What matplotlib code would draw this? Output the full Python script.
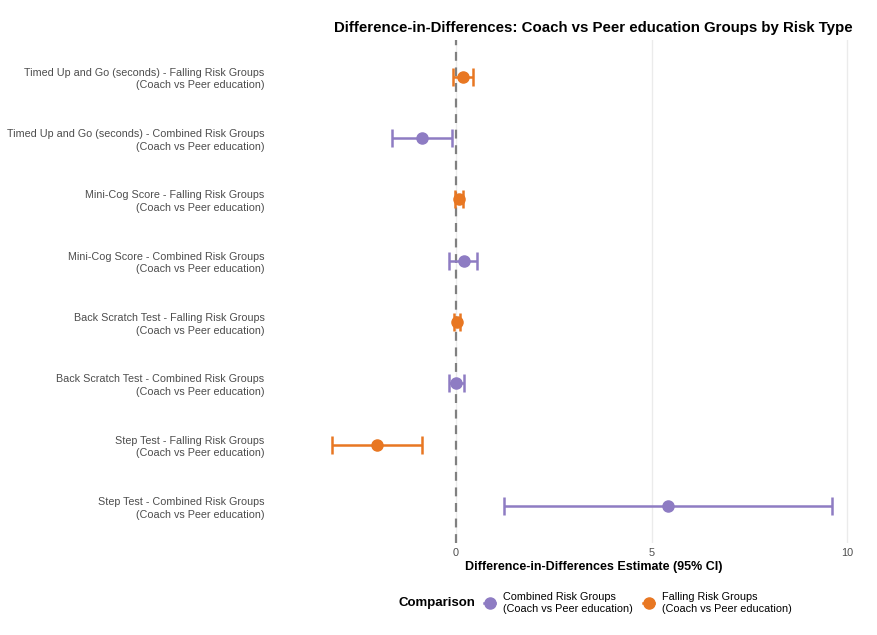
import numpy as np
import matplotlib.pyplot as plt
from matplotlib.lines import Line2D

plt.rcParams['font.family'] = ['Liberation Sans', 'DejaVu Sans']

# rows from top to bottom
outcomes = ['Timed Up and Go (seconds)', 'Timed Up and Go (seconds)',
            'Mini-Cog Score', 'Mini-Cog Score',
            'Back Scratch Test', 'Back Scratch Test',
            'Step Test', 'Step Test']
groups = ['Falling', 'Combined', 'Falling', 'Combined',
          'Falling', 'Combined', 'Falling', 'Combined']
estimate = [0.17, -0.88, 0.07, 0.19, 0.02, 0.01, -2.02, 5.43]
ci_low = [-0.09, -1.65, -0.04, -0.18, -0.06, -0.19, -3.18, 1.23]
ci_high = [0.43, -0.11, 0.17, 0.54, 0.10, 0.21, -0.88, 9.60]

colors = {'Combined': '#8E7CC3', 'Falling': '#E87722'}
legend_names = {'Combined': 'Combined Risk Groups\n(Coach vs Peer education)',
                'Falling': 'Falling Risk Groups\n(Coach vs Peer education)'}

labels = ['%s - %s Risk Groups\n(Coach vs Peer education)' % (o, g)
          for o, g in zip(outcomes, groups)]
n = len(labels)
ypos = np.arange(n)[::-1]

fig = plt.figure(figsize=(8.77, 6.35), dpi=100)
ax = fig.add_axes([0.376, 0.145, 0.602, 0.792])

ax.axvline(0, color='#808080', linestyle=(0, (4, 3)), linewidth=1.6, zorder=2)

for i in range(n):
    c = colors[groups[i]]
    err = [[estimate[i] - ci_low[i]], [ci_high[i] - estimate[i]]]
    ax.errorbar(estimate[i], ypos[i], xerr=err, fmt='o', color=c,
                ecolor=c, elinewidth=1.8, capsize=6.5, capthick=1.8,
                markersize=8, zorder=3)

ax.set_xlim(-3.23, 10.27)
ax.set_ylim(-0.6, n - 0.4)
ax.set_xticks([0, 5, 10])
ax.set_yticks(ypos)
ax.set_yticklabels(labels, fontsize=7.75, color='#4D4D4D', ha='right',
                   multialignment='right', linespacing=1.3)
ax.tick_params(axis='y', length=0, pad=47)
ax.tick_params(axis='x', length=0, labelsize=7.8, labelcolor='#4D4D4D', pad=4)
ax.grid(axis='x', color='#EBEBEB', linewidth=1)
ax.set_axisbelow(True)
for s in ax.spines.values():
    s.set_visible(False)

ax.set_xlabel('Difference-in-Differences Estimate (95% CI)', fontsize=9,
              fontweight='bold', labelpad=2)
ax.set_title('Difference-in-Differences: Coach vs Peer education Groups by Risk Type',
             fontsize=10.8, fontweight='bold', pad=6)

handles = [Line2D([0], [0], color=colors[k], marker='o', markersize=8,
                  linewidth=1.8) for k in ['Combined', 'Falling']]
fig.text(0.454, 0.05, 'Comparison', fontsize=9.5, fontweight='bold',
         va='center')
fig.legend(handles, [legend_names['Combined'], legend_names['Falling']],
           loc='center left', bbox_to_anchor=(0.541, 0.05), ncol=2,
           frameon=False, fontsize=7.8, handlelength=1.0, handletextpad=0.7,
           columnspacing=1.0)

fig.savefig('out.png', dpi=100)
